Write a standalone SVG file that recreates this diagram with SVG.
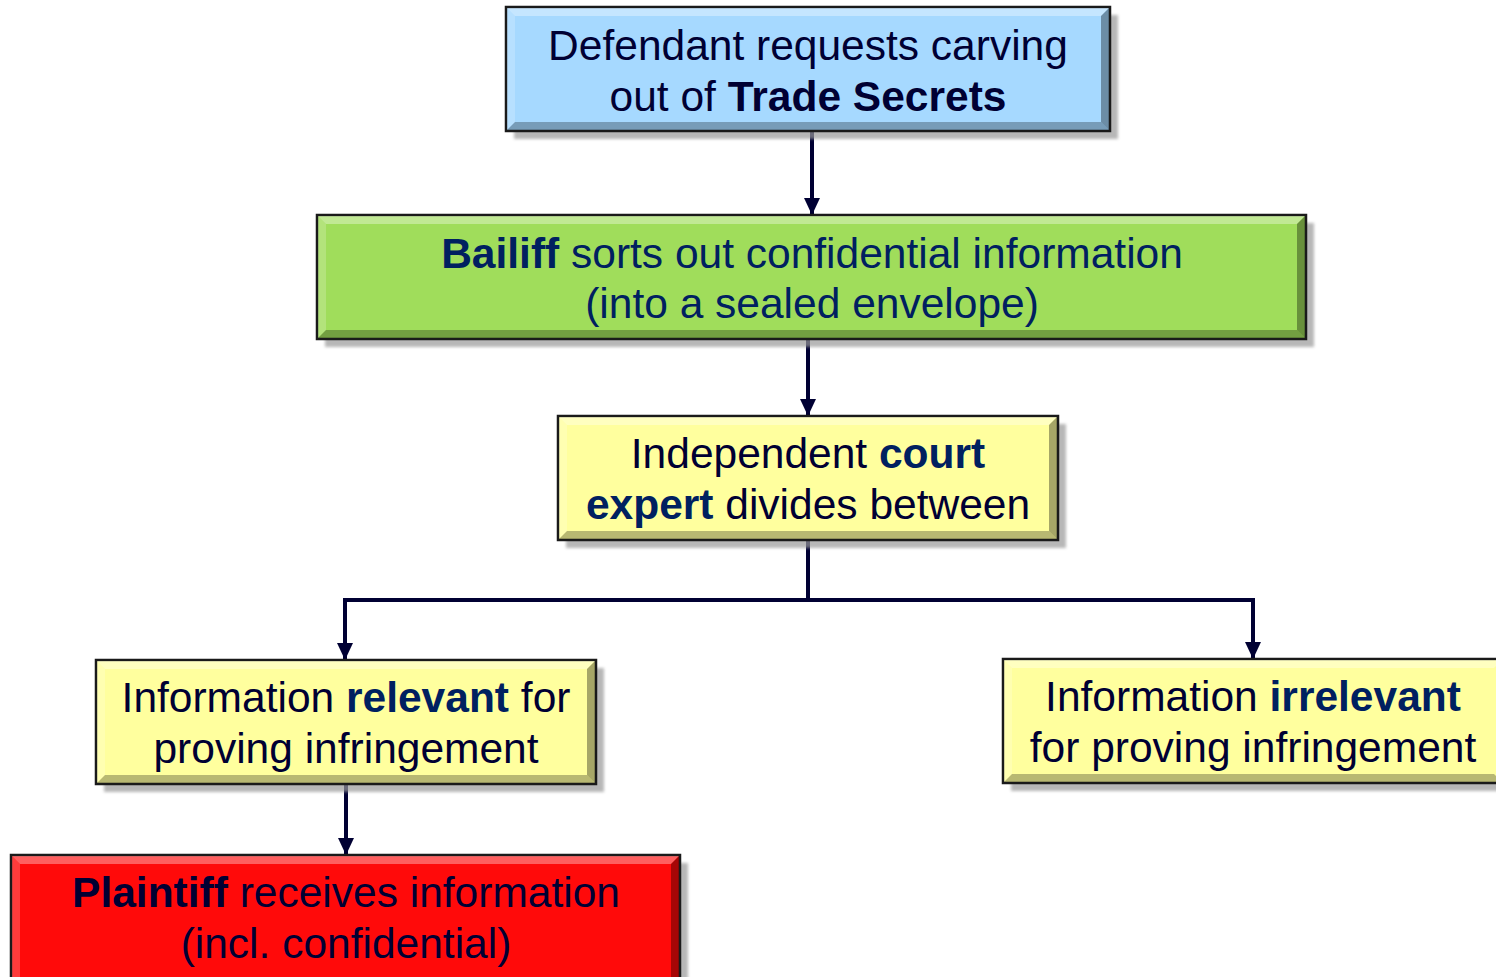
<svg xmlns="http://www.w3.org/2000/svg" width="1496" height="977" viewBox="0 0 1496 977">
  <style>
    .shadow { fill: #9a9a9a; opacity: 0.7; }
    .box { stroke: #1a1a1a; stroke-width: 2.5; }
    .hi-top { fill: #ffffff; opacity: 0.35; }
    .hi-left { fill: #ffffff; opacity: 0.2; }
    .lo-bottom { fill: #000000; opacity: 0.28; }
    .lo-right { fill: #000000; opacity: 0.35; }
    .label { font-family: "Liberation Sans", Arial, sans-serif; font-size: 42.5px; fill: #000033; text-anchor: middle; }
    .b { font-weight: bold; fill: #002060; }
    .wire { fill: none; stroke: #000033; stroke-width: 4; }
  </style>
  <defs>
    <marker id="arrow" markerWidth="18" markerHeight="18" refX="16" refY="9" orient="auto" markerUnits="userSpaceOnUse">
      <path d="M0,1 L17,9 L0,17 Z" fill="#000033"/>
    </marker>
    <filter id="soft" x="-5%" y="-5%" width="110%" height="110%">
      <feGaussianBlur stdDeviation="1.5"/>
    </filter>
  </defs>

  <rect width="1496" height="977" fill="#ffffff"/>

  <!-- connectors -->
  <g id="connectors">
    <path class="wire" d="M812,131 V214" marker-end="url(#arrow)"/>
    <path class="wire" d="M808,339 V415" marker-end="url(#arrow)"/>
    <path class="wire" d="M808,540 V600 H345 V659" marker-end="url(#arrow)"/>
    <path class="wire" d="M808,600 H1253 V658" marker-end="url(#arrow)"/>
    <path class="wire" d="M346,784 V854" marker-end="url(#arrow)"/>
  </g>

  <!-- Defendant request -->
  <g id="node-defendant">
    <rect class="shadow" x="514" y="15" width="604" height="124" filter="url(#soft)"/>
    <rect class="box" x="506" y="7" width="604" height="124" fill="#a6d9ff"/>
    <polygon class="hi-top" points="507,8 1109,8 1101,16 515,16"/>
    <polygon class="hi-left" points="507,8 515,16 515,122 507,130"/>
    <polygon class="lo-bottom" points="507,130 515,122 1101,122 1109,130"/>
    <polygon class="lo-right" points="1109,8 1109,130 1101,122 1101,16"/>
    <text class="label" x="808" y="60">Defendant requests carving</text>
    <text class="label" x="808" y="111">out of <tspan class="b" style="fill:#000033">Trade Secrets</tspan></text>
  </g>

  <!-- Bailiff -->
  <g id="node-bailiff">
    <rect class="shadow" x="325" y="223" width="989" height="124" filter="url(#soft)"/>
    <rect class="box" x="317" y="215" width="989" height="124" fill="#a0dd5b"/>
    <polygon class="hi-top" points="318,216 1305,216 1297,224 326,224"/>
    <polygon class="hi-left" points="318,216 326,224 326,330 318,338"/>
    <polygon class="lo-bottom" points="318,338 326,330 1297,330 1305,338"/>
    <polygon class="lo-right" points="1305,216 1305,338 1297,330 1297,224"/>
    <text class="label" x="812" y="268" style="fill:#002060"><tspan class="b">Bailiff</tspan> sorts out confidential information</text>
    <text class="label" x="812" y="318" style="fill:#002060">(into a sealed envelope)</text>
  </g>

  <!-- Court expert -->
  <g id="node-expert">
    <rect class="shadow" x="566" y="424" width="500" height="124" filter="url(#soft)"/>
    <rect class="box" x="558" y="416" width="500" height="124" fill="#ffff9e"/>
    <polygon class="hi-top" points="559,417 1057,417 1049,425 567,425"/>
    <polygon class="hi-left" points="559,417 567,425 567,531 559,539"/>
    <polygon class="lo-bottom" points="559,539 567,531 1049,531 1057,539"/>
    <polygon class="lo-right" points="1057,417 1057,539 1049,531 1049,425"/>
    <text class="label" x="808" y="468">Independent <tspan class="b">court</tspan></text>
    <text class="label" x="808" y="519"><tspan class="b">expert</tspan> divides between</text>
  </g>

  <!-- Relevant information -->
  <g id="node-relevant">
    <rect class="shadow" x="104" y="668" width="500" height="124" filter="url(#soft)"/>
    <rect class="box" x="96" y="660" width="500" height="124" fill="#ffff9e"/>
    <polygon class="hi-top" points="97,661 595,661 587,669 105,669"/>
    <polygon class="hi-left" points="97,661 105,669 105,775 97,783"/>
    <polygon class="lo-bottom" points="97,783 105,775 587,775 595,783"/>
    <polygon class="lo-right" points="595,661 595,783 587,775 587,669"/>
    <text class="label" x="346" y="712">Information <tspan class="b">relevant</tspan> for</text>
    <text class="label" x="346" y="763">proving infringement</text>
  </g>

  <!-- Irrelevant information -->
  <g id="node-irrelevant">
    <rect class="shadow" x="1011" y="667" width="500" height="124" filter="url(#soft)"/>
    <rect class="box" x="1003" y="659" width="500" height="124" fill="#ffff9e"/>
    <polygon class="hi-top" points="1004,660 1502,660 1494,668 1012,668"/>
    <polygon class="hi-left" points="1004,660 1012,668 1012,774 1004,782"/>
    <polygon class="lo-bottom" points="1004,782 1012,774 1494,774 1502,782"/>
    <text class="label" x="1253" y="711">Information <tspan class="b">irrelevant</tspan></text>
    <text class="label" x="1253" y="762">for proving infringement</text>
  </g>

  <!-- Plaintiff -->
  <g id="node-plaintiff">
    <rect class="shadow" x="19" y="863" width="669" height="124" filter="url(#soft)"/>
    <rect class="box" x="11" y="855" width="669" height="130" fill="#ff0a0a"/>
    <polygon class="hi-top" points="12,856 679,856 671,864 20,864"/>
    <polygon class="hi-left" points="12,856 20,864 20,977 12,977"/>
    <polygon class="lo-right" points="679,856 679,977 671,977 671,864"/>
    <text class="label" x="346" y="907"><tspan class="b" style="fill:#000033">Plaintiff</tspan> receives information</text>
    <text class="label" x="346" y="958">(incl. confidential)</text>
  </g>
</svg>
